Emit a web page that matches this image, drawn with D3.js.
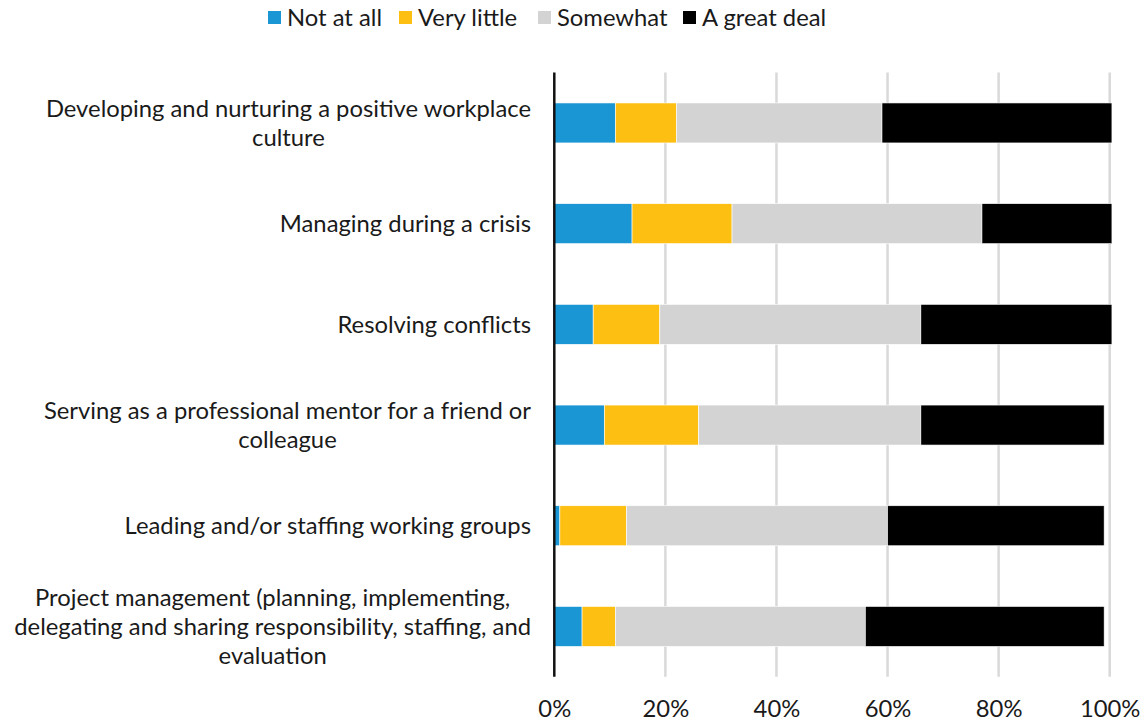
<!DOCTYPE html>
<html>
<head>
<meta charset="utf-8">
<script src="https://cdn.jsdelivr.net/npm/d3@7"></script>
<style>
  html, body { margin: 0; padding: 0; background: #fff; }
  svg { display: block; font-family: Lato, "Open Sans", sans-serif; }
</style>
</head>
<body>
<svg id="chart" width="1145" height="721"></svg>
<script>
// Survey items (top to bottom); "\n" marks a line break in the label
const categories = [
  "Developing and nurturing a positive workplace\nculture",
  "Managing during a crisis",
  "Resolving conflicts",
  "Serving as a professional mentor for a friend or\ncolleague",
  "Leading and/or staffing working groups",
  "Project management (planning, implementing,\ndelegating and sharing responsibility, staffing, and\nevaluation"
];

const seriesNames = ["Not at all", "Very little", "Somewhat", "A great deal"];

// Share of respondents (%) per answer, in category order
const notAtAll   = [11, 14, 7, 9, 1, 5];
const veryLittle = [11, 18, 12, 17, 12, 6];
const somewhat   = [37, 45, 47, 40, 47, 45];
const greatDeal  = [41.4, 23.4, 34.4, 33, 39, 43];

const tickValues = [0, 20, 40, 60, 80, 100];
const colors = ["#1996d3", "#fdbf12", "#d3d3d3", "#000000"];

const seriesValues = [notAtAll, veryLittle, somewhat, greatDeal];
const rows = categories.map((c, i) => {
  const r = { category: c };
  seriesNames.forEach((s, k) => { r[s] = seriesValues[k][i]; });
  return r;
});

const fontSize = "23.8px";
const svg = d3.select("#chart");

const x = d3.scaleLinear().domain([0, 100]).range([554.3, 1109.7]);
const y = d3.scaleBand().domain(categories).range([72.6, 676.8])
  .paddingInner(0.603).paddingOuter(0.3015);

// Vertical gridlines
svg.append("g")
  .selectAll("line")
  .data(tickValues.filter(t => t > 0))
  .join("line")
  .attr("x1", d => x(d)).attr("x2", d => x(d))
  .attr("y1", y.range()[0]).attr("y2", y.range()[1])
  .attr("stroke", "#d9d9d9")
  .attr("stroke-width", 2.5);

// Stacked bars
const stack = d3.stack().keys(seriesNames);
const layers = stack(rows);

svg.append("g")
  .selectAll("g")
  .data(layers)
  .join("g")
  .attr("fill", (d, i) => colors[i])
  .selectAll("rect")
  .data(d => d)
  .join("rect")
  .attr("x", d => x(d[0]))
  .attr("width", d => x(d[1]) - x(d[0]))
  .attr("y", d => y(d.data.category))
  .attr("height", y.bandwidth())
  .attr("stroke", "#ffffff")
  .attr("stroke-width", 0.6);

// Bottom axis: percentage labels, no tick marks or domain line
const xAxis = d3.axisBottom(x)
  .tickValues(tickValues)
  .tickFormat(d => d + "%")
  .tickSize(0)
  .tickPadding(0);

const gx = svg.append("g")
  .attr("transform", "translate(0,694)")
  .call(xAxis);
gx.select(".domain").remove();
gx.selectAll("text")
  .attr("dy", 0)
  .attr("y", 23)
  .attr("fill", "#1a1a1a")
  .style("font-size", fontSize)
  .style("font-family", "Lato, 'Open Sans', sans-serif");

// Category axis line
svg.append("line")
  .attr("x1", x(0)).attr("x2", x(0))
  .attr("y1", y.range()[0]).attr("y2", y.range()[1])
  .attr("stroke", "#111")
  .attr("stroke-width", 2.5);

// Category labels: right-aligned block, lines centred within it
const labelRight = 531;
const lineH = 29;
const lab = svg.append("g")
  .selectAll("g")
  .data(categories)
  .join("g");

lab.each(function(c) {
  const g = d3.select(this);
  const lines = c.split("\n");
  const cy = y(c) + y.bandwidth() / 2;
  const t = g.append("text")
    .attr("fill", "#1a1a1a")
    .style("font-size", fontSize);
  lines.forEach((ln, i) => {
    t.append("tspan")
      .attr("y", cy + (i - (lines.length - 1) / 2) * lineH)
      .attr("dy", "0.35em")
      .text(ln);
  });
  const spans = t.selectAll("tspan").nodes();
  const maxW = d3.max(spans, n => n.getComputedTextLength());
  t.attr("text-anchor", "middle");
  t.selectAll("tspan").attr("x", labelRight - maxW / 2);
});

// Legend
const legendX = [268, 399, 538, 683];
const legend = svg.append("g")
  .selectAll("g")
  .data(seriesNames)
  .join("g")
  .attr("transform", (d, i) => `translate(${legendX[i]},0)`);

legend.append("rect")
  .attr("x", 0).attr("y", 11)
  .attr("width", 13).attr("height", 13)
  .attr("fill", (d, i) => colors[i]);

legend.append("text")
  .attr("x", 19).attr("y", 18)
  .attr("dy", "0.35em")
  .attr("fill", "#1a1a1a")
  .style("font-size", fontSize)
  .text(d => d);
</script>
</body>
</html>
